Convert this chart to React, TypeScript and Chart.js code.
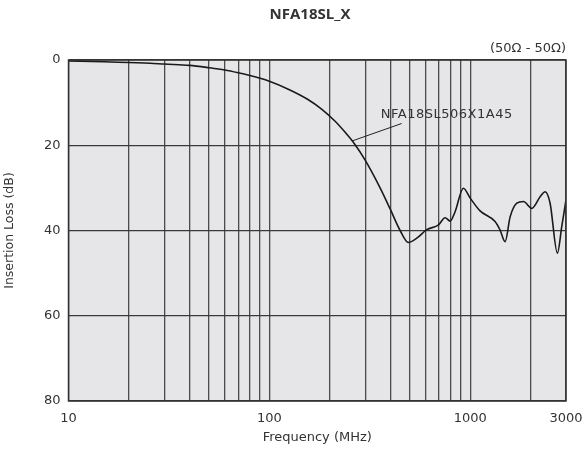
import React, { useEffect, useRef } from "react";
import { Chart, registerables } from "chart.js";

Chart.register(...registerables);

const freqMHz = [10, 15, 20, 25.5, 30, 40, 50, 60, 70, 80, 90, 100, 125, 155, 182, 212, 238, 262, 300, 356, 400, 448, 492, 542, 608, 696, 750, 795, 841, 925, 1000, 1120, 1330, 1409, 1493, 1581, 1707, 1843, 2027, 2230, 2361, 2500, 2718, 2857, 3000];
const lossDB = [0.2, 0.4, 0.6, 0.75, 0.95, 1.25, 1.8, 2.35, 3.0, 3.65, 4.3, 5.0, 6.9, 9.2, 11.5, 14.3, 16.9, 19.3, 23.5, 30.0, 35.0, 40.0, 42.8, 41.8, 39.8, 38.7, 37.0, 37.8, 35.6, 30.1, 32.4, 35.4, 37.9, 39.9, 42.6, 36.8, 33.6, 33.2, 34.8, 32.1, 30.9, 33.6, 45.3, 39.1, 32.8];

const xGridTicks = [10, 20, 30, 40, 50, 60, 70, 80, 90, 100, 200, 300, 400, 500, 600, 700, 800, 900, 1000, 2000, 3000];
const xLabeledTicks = [10, 100, 1000, 3000];
const yTicks = [0, 20, 40, 60, 80];

const chartTitle = "NFA18SL_X";
const impedanceNote = "(50Ω - 50Ω)";
const partLabel = "NFA18SL506X1A45";
const xTitle = "Frequency (MHz)";
const yTitle = "Insertion Loss (dB)";
// leader line from curve point to label (data coordinates)
const leaderFrom = { f: 258, db: 19.0 };
const leaderTo = { f: 456, db: 14.9 };
const labelAt = { f: 359, db: 12.8 };

const FONT = "'DejaVu Sans', sans-serif";
const TITLE_FONT = "'Open Sans', 'DejaVu Sans', sans-serif";

export default function App() {
  const ref = useRef<HTMLCanvasElement | null>(null);
  useEffect(() => {
    document.body.style.margin = "0";
    const canvas = ref.current!;
    const decor = {
      id: "decor",
      beforeDraw(chart: any) {
        const { ctx, chartArea: a } = chart;
        ctx.save();
        ctx.fillStyle = "#e6e6e8";
        ctx.fillRect(a.left, a.top, a.right - a.left, a.bottom - a.top);
        ctx.restore();
      },
      afterDraw(chart: any) {
        const { ctx, chartArea: a, scales } = chart;
        const xs = scales.x, ys = scales.y;
        ctx.save();
        ctx.fillStyle = "#333";
        ctx.textBaseline = "middle";
        ctx.font = `bold 15px ${TITLE_FONT}`;
        ctx.textAlign = "center";
        ctx.fillText(chartTitle, 310, 15);
        ctx.font = `13px ${FONT}`;
        ctx.textAlign = "right";
        ctx.fillText(impedanceNote, a.right, a.top - 11);
        ctx.textAlign = "left";
        (ctx as any).letterSpacing = "0.5px";
        ctx.fillText(partLabel, xs.getPixelForValue(labelAt.f), ys.getPixelForValue(labelAt.db));
        (ctx as any).letterSpacing = "0px";
        ctx.textAlign = "center";
        ctx.fillText(xTitle, (a.left + a.right) / 2, 438);
        ctx.font = `12.5px ${FONT}`;
        ctx.translate(10, (a.top + a.bottom) / 2);
        ctx.rotate(-Math.PI / 2);
        ctx.fillText(yTitle, 0, 0);
        ctx.restore();
        ctx.save();
        ctx.strokeStyle = "#222";
        ctx.lineWidth = 1;
        ctx.beginPath();
        ctx.moveTo(xs.getPixelForValue(leaderFrom.f), ys.getPixelForValue(leaderFrom.db));
        ctx.lineTo(xs.getPixelForValue(leaderTo.f), ys.getPixelForValue(leaderTo.db));
        ctx.stroke();
        ctx.strokeStyle = "#333";
        ctx.lineWidth = 1.5;
        ctx.strokeRect(a.left, a.top, a.right - a.left, a.bottom - a.top);
        ctx.restore();
      },
    };
    const chart = new Chart(canvas, {
      type: "line",
      data: {
        datasets: [
          {
            data: freqMHz.map((f, i) => ({ x: f, y: lossDB[i] })),
            borderColor: "#1a1a1a",
            borderWidth: 1.6,
            pointRadius: 0,
            cubicInterpolationMode: "monotone",
            fill: false,
          },
        ],
      },
      options: {
        animation: false,
        responsive: false,
        layout: { padding: { top: 60, right: 19, left: 0, bottom: 0 } },
        plugins: { legend: { display: false }, tooltip: { enabled: false }, title: { display: false } },
        scales: {
          x: {
            type: "logarithmic",
            min: 10,
            max: 3000,
            afterBuildTicks: (s: any) => {
              s.ticks = xGridTicks.map((v) => ({ value: v }));
            },
            afterFit: (s: any) => {
              s.height = 51;
              s.paddingLeft = 0;
              s.paddingRight = 0;
            },
            ticks: {
              autoSkip: false,
              maxRotation: 0,
              padding: 10,
              color: "#333",
              font: { family: FONT, size: 13 },
              callback: (v: any) => (xLabeledTicks.includes(Number(v)) ? String(v) : ""),
            },
            grid: { color: "#4a4a4a", lineWidth: 1.3, drawTicks: false },
            border: { display: false },
          },
          y: {
            type: "linear",
            reverse: true,
            min: 0,
            max: 80,
            afterBuildTicks: (s: any) => {
              s.ticks = yTicks.map((v) => ({ value: v }));
            },
            afterFit: (s: any) => {
              s.width = 68.5;
              s.paddingTop = 0;
              s.paddingBottom = 0;
            },
            ticks: {
              padding: 8,
              color: "#333",
              font: { family: FONT, size: 13 },
            },
            grid: { color: "#3a3a3a", lineWidth: 1.3, drawTicks: false },
            border: { display: false },
          },
        },
      },
      plugins: [decor],
    } as any);
    return () => chart.destroy();
  }, []);
  return <canvas ref={ref} width={585} height={452} style={{ display: "block" }} />;
}
